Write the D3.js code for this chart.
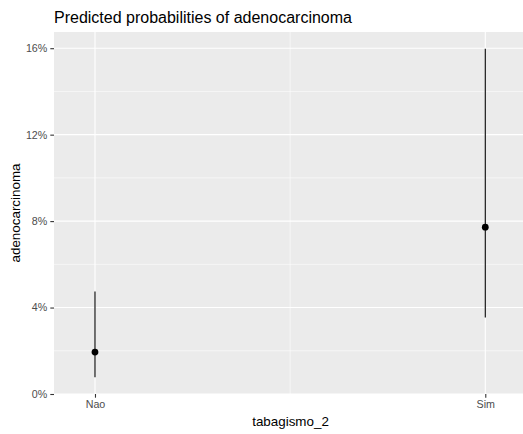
<!DOCTYPE html>
<html><head><meta charset="utf-8">
<script src="https://cdn.jsdelivr.net/npm/d3@7"></script>
<style>body{margin:0;background:#fff}svg{display:block;font-family:"Liberation Sans",Arial,sans-serif}</style>
</head><body>
<svg id="c" width="523" height="434"></svg>
<script>
const categories = ["Nao", "Sim"];
const predicted = [0.0194, 0.0772];
const ciLow = [0.0077, 0.0354];
const ciHigh = [0.0474, 0.1598];
const yTicks = [0, 0.04, 0.08, 0.12, 0.16];
const yMinor = [0.02, 0.06, 0.10, 0.14];
const xMinor = [1.5];

(function () {
const svg = d3.select("#c");
const W = 523, H = 434;
const pLeft = 54, pTop = 32, pBottom = 394;

const x = d3.scaleLinear().domain([0.895, 2.105]).range([pLeft, pLeft + 1.21 * 390.3]);
const y = d3.scaleLinear().domain([0, 0.1675]).range([pBottom, pTop]);

svg.append("defs").append("clipPath").attr("id", "clip")
  .append("rect").attr("x", pLeft).attr("y", pTop).attr("width", W - pLeft).attr("height", pBottom - pTop);

const panel = svg.append("g").attr("clip-path", "url(#clip)");
panel.append("rect").attr("x", pLeft).attr("y", pTop).attr("width", W - pLeft).attr("height", pBottom - pTop).attr("fill", "#EBEBEB");

panel.selectAll(".ymin").data(yMinor).join("line")
  .attr("x1", pLeft).attr("x2", W).attr("y1", d => y(d)).attr("y2", d => y(d))
  .attr("stroke", "#fff").attr("stroke-width", 0.55);
panel.selectAll(".xmin").data(xMinor).join("line")
  .attr("y1", pTop).attr("y2", pBottom).attr("x1", d => x(d)).attr("x2", d => x(d))
  .attr("stroke", "#fff").attr("stroke-width", 0.55);
panel.selectAll(".ymaj").data(yTicks).join("line")
  .attr("x1", pLeft).attr("x2", W).attr("y1", d => y(d)).attr("y2", d => y(d))
  .attr("stroke", "#fff").attr("stroke-width", 1.1);
panel.selectAll(".xmaj").data(categories).join("line")
  .attr("y1", pTop).attr("y2", pBottom).attr("x1", (d, i) => x(i + 1)).attr("x2", (d, i) => x(i + 1))
  .attr("stroke", "#fff").attr("stroke-width", 1.1);

panel.selectAll(".ci").data(categories).join("line")
  .attr("x1", (d, i) => x(i + 1)).attr("x2", (d, i) => x(i + 1))
  .attr("y1", (d, i) => y(ciLow[i])).attr("y2", (d, i) => y(ciHigh[i]))
  .attr("stroke", "#000").attr("stroke-width", 1.1);
panel.selectAll(".pt").data(categories).join("circle")
  .attr("cx", (d, i) => x(i + 1)).attr("cy", (d, i) => y(predicted[i])).attr("r", 3.4)
  .attr("fill", "#000");

const yAxis = d3.axisLeft(y).tickValues(yTicks).tickFormat(d => Math.round(d * 100) + "%").tickSize(3.7).tickPadding(3);
const ga = svg.append("g").attr("transform", `translate(${pLeft},0)`).call(yAxis);
ga.select(".domain").remove();
ga.selectAll(".tick line").attr("stroke", "#333").attr("stroke-width", 1.1);
ga.selectAll(".tick text").attr("fill", "#4D4D4D").style("font-size", "10.7px").style("font-family", "Liberation Sans, Arial, sans-serif");

const xs = d3.scaleOrdinal().domain(categories).range([x(1), x(2)]);
const xAxis = d3.axisBottom(xs).tickSize(3.7).tickPadding(2.5);
const gx = svg.append("g").attr("transform", `translate(0,${pBottom})`).call(xAxis);
gx.select(".domain").remove();
gx.selectAll(".tick line").attr("stroke", "#333").attr("stroke-width", 1.1);
gx.selectAll(".tick text").attr("fill", "#4D4D4D").style("font-size", "10.7px").style("font-family", "Liberation Sans, Arial, sans-serif");

svg.append("text").attr("x", (pLeft + 527) / 2).attr("y", 426).attr("text-anchor", "middle")
  .style("font-size", "13.4px").attr("fill", "#000").text("tabagismo_2");
svg.append("text").attr("transform", `translate(20,${(pTop + pBottom) / 2}) rotate(-90)`).attr("text-anchor", "middle")
  .style("font-size", "13.4px").attr("fill", "#000").text("adenocarcinoma");
svg.append("text").attr("x", pLeft).attr("y", 22.5)
  .style("font-size", "16px").attr("fill", "#000").text("Predicted probabilities of adenocarcinoma");
})();
</script>
</body></html>
